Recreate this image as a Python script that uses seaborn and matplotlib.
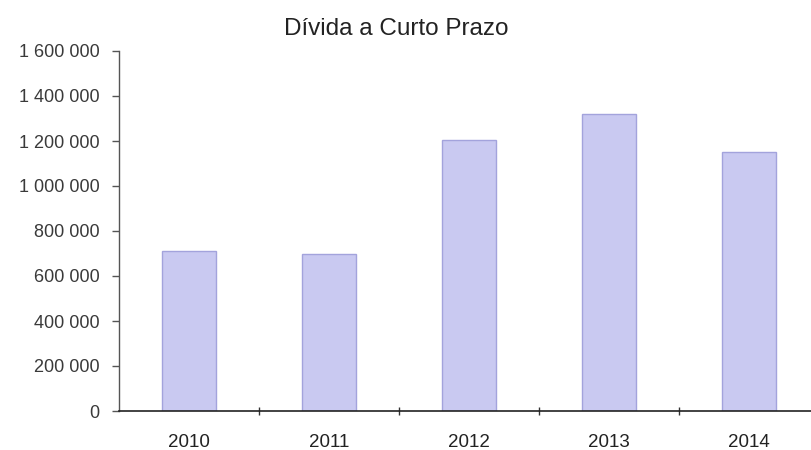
import matplotlib
matplotlib.use("Agg")
import matplotlib.pyplot as plt
from matplotlib.ticker import FuncFormatter, FixedLocator
import seaborn as sns
import pandas as pd

years = ["2010", "2011", "2012", "2013", "2014"]
divida = [709000, 696000, 1205000, 1321000, 1152000]
y_ticks = [0, 200000, 400000, 600000, 800000, 1000000, 1200000, 1400000, 1600000]

sns.set_style("white")
plt.rcParams["font.family"] = ["Liberation Sans", "DejaVu Sans"]

df = pd.DataFrame({"Ano": years, "Valor": divida})

fig = plt.figure(figsize=(8.11, 4.5), dpi=100)
ax = fig.add_axes([119 / 811, 1 - 411 / 450, 692 / 811, 360 / 450])

sns.barplot(data=df, x="Ano", y="Valor", ax=ax, width=0.39,
            color="#c9c9f1", edgecolor="#a3a3dc", linewidth=1.0, saturation=1)

ax.set_ylim(0, 1600000)
ax.set_xlim(-0.5, 4.443)
ax.set_yticks(y_ticks)
ax.yaxis.set_major_formatter(FuncFormatter(lambda v, p: f"{int(v):,}".replace(",", " ")))
ax.set_xlabel("")
ax.set_ylabel("")

for s in ["top", "right"]:
    ax.spines[s].set_visible(False)
ax.spines["left"].set_color("#555555")
ax.spines["bottom"].set_color("#222222")
ax.spines["left"].set_linewidth(1.0)
ax.spines["bottom"].set_linewidth(1.2)

ax.tick_params(axis="y", left=True, length=5, width=1, color="#555555",
               labelsize=13, labelcolor="#3a3a3a", pad=9)
ax.tick_params(axis="x", bottom=False, labelsize=13.5, labelcolor="#222222", pad=13)
ax.xaxis.set_minor_locator(FixedLocator([0.5, 1.5, 2.5, 3.5]))
ax.tick_params(axis="x", which="minor", bottom=True, length=6, width=1,
               direction="inout", color="#333333")

fig.text(396 / 811, 1 - 29 / 450, "Dívida a Curto Prazo", ha="center", va="center",
         fontsize=17.5, color="#222222")

fig.savefig("out.png", dpi=100)
